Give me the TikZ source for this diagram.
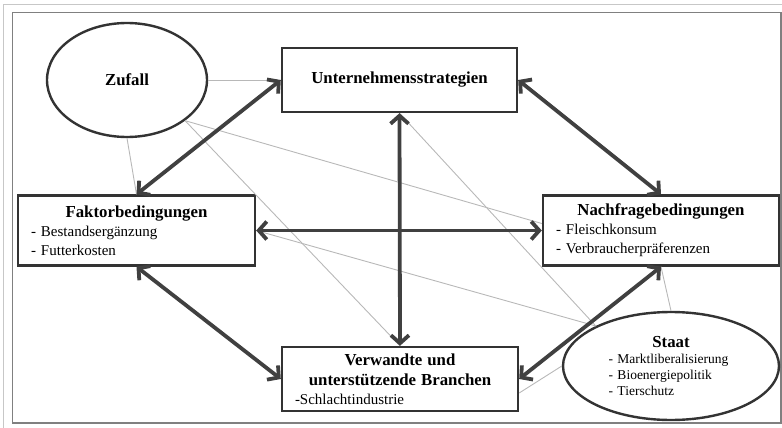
\documentclass[tikz,border=0pt]{standalone}
\usepackage{fontspec}
\setmainfont{Liberation Serif}
\usetikzlibrary{arrows.meta,shapes.geometric}

\newcommand\titel{\fontsize{16.8}{20}\selectfont\bfseries}

\begin{document}
\begin{tikzpicture}[x=1pt,y=-1pt,every node/.style={align=left,font=\fontsize{15}{19}\selectfont},
        kasten/.style={draw=black!80,fill=white,line width=2.4pt,rectangle,inner sep=0pt},
        oval/.style={draw=black!80,fill=white,line width=2.4pt,ellipse,inner sep=0pt},
        dick/.style={draw=black!75,line width=3.8pt,{Straight Barb[length=8pt,width=18pt]}-{Straight Barb[length=8pt,width=18pt]}},
        duenn/.style={draw=black!28,line width=0.9pt}]
        \useasboundingbox (0,0) rectangle (782,428);
        \draw[black!22,line width=0.8pt] (3,428) -- (3,4) -- (782,4);
        \draw[black!50,line width=1.2pt] (12.5,12.5) rectangle (781,423);

        \node[oval,minimum width=160pt,minimum height=114pt] (zufall) at (127,80) {\titel Zufall};
        \node[kasten,minimum width=235pt,minimum height=64pt] (strat) at (399.5,80) {\titel Unternehmensstrategien};
        \node[kasten,minimum width=237pt,minimum height=70pt,text width=211pt] (faktor) at (136.5,230.5)
            {{\titel\centering Faktorbedingungen\par}- Bestandsergänzung\\- Futterkosten};
        \node[kasten,minimum width=236pt,minimum height=70pt,text width=210pt] (nachfrage) at (661,230.5)
            {{\titel\centering Nachfragebedingungen\par}- Fleischkonsum\\- Verbraucherpräferenzen};
        \node[kasten,minimum width=236pt,minimum height=64pt,text width=210pt] (branchen) at (400,379)
            {{\titel\centering Verwandte und\\unterstützende Branchen\par}-Schlachtindustrie};
        \node[oval,minimum width=216pt,minimum height=108pt,text width=125pt,font=\fontsize{13.5}{16}\selectfont] (staat) at (671,366)
            {{\titel\centering Staat\par}- Marktliberalisierung\\- Bioenergiepolitik\\- Tierschutz};

        \draw[duenn] (zufall.east) -- (strat.west);
        \draw[duenn] (zufall.south) -- (faktor.north);
        \draw[duenn] (zufall.-35) -- ([yshift=7pt]nachfrage.west);
        \draw[duenn] (zufall.-35) -- (branchen.north);
        \draw[duenn] (strat.south) -- (staat.152);
        \draw[duenn] (faktor.east) -- (staat.152);
        \draw[duenn] (staat.north) -- (nachfrage.south);
        \draw[duenn] (staat.west) -- ([yshift=-14pt]branchen.east);

        \foreach \a/\b in {strat.west/faktor.north,strat.east/nachfrage.north,strat.south/branchen.north,
            faktor.east/nachfrage.west,faktor.south/branchen.west,nachfrage.south/branchen.east}
            {\draw[dick] (\a) -- (\b);}
\end{tikzpicture}
\end{document}
